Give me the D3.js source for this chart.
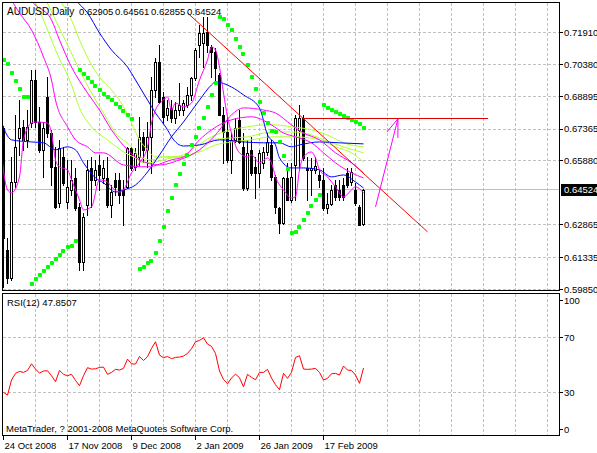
<!DOCTYPE html>
<html><head><meta charset="utf-8">
<script src="https://cdn.jsdelivr.net/npm/d3@7"></script>
<style>
body{margin:0;background:#fff}
svg{display:block}
text{font-family:"Liberation Sans",Arial,sans-serif;font-size:9.5px;fill:#000}
</style>
</head><body>
<svg id="c" width="597" height="453"></svg>
<script>
// ---------------- DATA ----------------
const symbolTitle = "AUDUSD,Daily";
const titleValues = ["0.62905", "0.64561", "0.62855", "0.64524"];
const dateLabels = ["24 Oct 2008", "17 Nov 2008", "9 Dec 2008", "2 Jan 2009", "26 Jan 2009", "17 Feb 2009"];
const dateBars = [0, 16, 32, 48, 64, 80];
const priceTicks = [0.71910, 0.70380, 0.68895, 0.67365, 0.65880, 0.62865, 0.61335, 0.59850];
const rsiTicks = [100, 70, 30, 0];
const rsiGrid = [70, 30];
const lastPrice = 0.64524;
const rsiLabel = "RSI(12) 47.8507";
const copyright = "MetaTrader, ? 2001-2008 MetaQuotes Software Corp.";

const open = [0.6742,0.6169,0.6038,0.6488,0.6695,0.6747,0.6686,0.6765,0.6967,0.6770,
0.6639,0.6888,0.6718,0.6559,0.6390,0.6606,0.6394,0.6451,0.6507,0.6371,
0.6113,0.6380,0.6554,0.6498,0.6568,0.6507,0.6507,0.6380,0.6498,0.6498,
0.6451,0.6465,0.6648,0.6559,0.6606,0.6700,0.6639,0.6700,0.6920,0.7052,
0.6888,0.6803,0.6836,0.6789,0.6826,0.6826,0.6850,0.6897,0.6977,0.7132,
0.7141,0.7193,0.7122,0.7099,0.6991,0.6803,0.6723,0.6592,0.6686,0.6780,
0.6653,0.6460,0.6639,0.6559,0.6531,0.6578,0.6629,0.6662,0.6512,0.6366,
0.6296,0.6507,0.6404,0.6568,0.6733,0.6789,0.6554,0.6545,0.6545,0.6521,
0.6498,0.6366,0.6385,0.6474,0.6451,0.6474,0.6531,0.6488,0.6451,0.6371,
0.62905];
const high = [0.6751,0.6225,0.6606,0.6803,0.6873,0.6780,0.6826,0.7014,0.7014,0.6841,
0.6770,0.6981,0.6733,0.6653,0.6686,0.6653,0.6592,0.6592,0.6554,0.6390,
0.6343,0.6592,0.6606,0.6592,0.6615,0.6592,0.6606,0.6474,0.6531,0.6531,
0.6498,0.6653,0.6653,0.6648,0.6794,0.6723,0.6770,0.6981,0.7071,0.7132,
0.6911,0.6873,0.6873,0.6864,0.6953,0.6873,0.6934,0.6981,0.7118,0.7226,
0.7263,0.7263,0.7132,0.7118,0.7000,0.6841,0.6794,0.6718,0.6789,0.6826,
0.6718,0.6686,0.6700,0.6606,0.6639,0.6653,0.6723,0.6686,0.6521,0.6371,
0.6512,0.6578,0.6578,0.6803,0.6850,0.6803,0.6606,0.6601,0.6606,0.6545,
0.6554,0.6437,0.6474,0.6498,0.6498,0.6507,0.6554,0.6554,0.6484,0.6380,
0.64561];
const low = [0.5995,0.6014,0.6028,0.6465,0.6615,0.6639,0.6653,0.6747,0.6747,0.6629,
0.6512,0.6700,0.6474,0.6366,0.6371,0.6474,0.6366,0.6427,0.6357,0.6075,
0.6075,0.6333,0.6371,0.6474,0.6451,0.6484,0.6371,0.6324,0.6427,0.6390,
0.6286,0.6460,0.6545,0.6545,0.6568,0.6582,0.6559,0.6531,0.6888,0.6859,
0.6765,0.6780,0.6770,0.6765,0.6803,0.6803,0.6841,0.6873,0.6967,0.7075,
0.7028,0.7099,0.6981,0.6953,0.6803,0.6578,0.6582,0.6531,0.6676,0.6672,
0.6451,0.6451,0.6521,0.6413,0.6465,0.6554,0.6615,0.6498,0.6343,0.6249,
0.6291,0.6404,0.6394,0.6404,0.6545,0.6592,0.6404,0.6427,0.6531,0.6465,
0.6357,0.6343,0.6380,0.6404,0.6404,0.6404,0.6465,0.6474,0.6380,0.6286,
0.62855];
const close = [0.6225,0.6038,0.6488,0.6653,0.6742,0.6686,0.6747,0.6967,0.6770,0.6639,
0.6742,0.6718,0.6559,0.6371,0.6648,0.6484,0.6465,0.6498,0.6366,0.6113,
0.6324,0.6545,0.6498,0.6545,0.6521,0.6554,0.6380,0.6441,0.6465,0.6427,
0.6427,0.6648,0.6554,0.6625,0.6700,0.6639,0.6700,0.6920,0.7052,0.6864,
0.6794,0.6836,0.6789,0.6826,0.6850,0.6859,0.6897,0.6977,0.7108,0.7188,
0.7188,0.7132,0.7099,0.7024,0.6803,0.6723,0.6592,0.6686,0.6742,0.6676,
0.6460,0.6625,0.6531,0.6531,0.6625,0.6629,0.6676,0.6512,0.6371,0.6296,
0.6507,0.6404,0.6512,0.6789,0.6789,0.6601,0.6545,0.6554,0.6563,0.6498,
0.6366,0.6385,0.6451,0.6418,0.6418,0.6418,0.6474,0.6535,0.6390,0.6286,
0.64524];

const sar = [0.7061,0.7042,0.7000,0.6963,0.6925,0.6888,0.6888,
0.6009,0.6033,0.6052,0.6070,0.6089,0.6108,0.6127,0.6146,0.6164,0.6183,0.6188,0.6211,
0.7014,0.6996,0.6977,0.6958,0.6939,0.6920,0.6902,0.6888,0.6873,0.6855,0.6841,0.6822,0.6803,0.6784,
null,0.6080,0.6089,0.6108,0.6117,0.6155,0.6211,0.6277,0.6352,0.6413,0.6474,0.6526,0.6573,0.6615,0.6662,0.6700,0.6742,0.6789,0.6841,0.6897,0.6953,
0.7263,0.7254,0.7226,0.7202,0.7160,0.7122,0.7089,0.7038,0.6981,0.6925,0.6864,0.6812,0.6765,0.6728,0.6722,0.6676,0.6610,0.6549,
0.6249,0.6254,0.6277,0.6310,0.6343,0.6376,0.6404,0.6427,
0.6850,0.6836,0.6826,0.6817,0.6808,0.6798,0.6789,0.6780,0.6770,0.6761,0.6742];

const rsi = [30.3,28.3,39.2,44.0,45.4,44.7,46.1,50.9,47.1,44.2,
45.7,45.9,42.3,38.0,46.1,43.3,42.3,43.3,38.9,35.1,
42.3,48.1,47.1,47.3,48.3,48.5,43.3,44.7,46.9,46.4,
47.6,54.3,50.9,50.7,56.2,53.3,56.0,62.0,66.8,57.2,
55.3,56.2,54.6,55.5,55.8,56.5,58.4,61.8,66.8,67.8,
69.7,65.1,63.5,58.4,45.7,39.6,36.5,40.6,43.5,40.8,
34.3,43.3,41.1,39.4,44.7,44.7,46.9,40.6,35.8,32.2,
44.0,40.4,44.7,55.5,56.7,47.1,46.9,47.1,47.6,44.7,
39.2,40.4,43.7,44.0,42.8,49.3,46.4,46.1,42.8,36.8,
47.85];

// moving-average lines: [bar index, price]
const maMagentaFast = [[-1,0.6709],[1,0.6451],[2,0.6437],[4,0.6512],[5,0.6686],[7,0.6765],[8,0.6770],[11,0.6765],[12,0.6718],[13,0.6592],[14,0.6559],[16,0.6545],[17,0.6498],[19,0.6404],[20,0.6357],[22,0.6371],[24,0.6498],[26,0.6488],[27,0.6465],[29,0.6441],[30,0.6451],[32,0.6531],[34,0.6578],[36,0.6653],[37,0.6765],[38,0.6826],[40,0.6873],[41,0.6888],[42,0.6826],[43,0.6859],[45,0.6841],[47,0.6859],[49,0.6967],[51,0.7061],[52,0.7122],[53,0.7108],[54,0.7028],[55,0.6906],[56,0.6794],[57,0.6718],[59,0.6625],[61,0.6606],[62,0.6615],[64,0.6578],[66,0.6601],[67,0.6578],[68,0.6512],[70,0.6451],[72,0.6413],[73,0.6418],[74,0.6545],[75,0.6606],[77,0.6629],[78,0.6601],[79,0.6545],[81,0.6512],[83,0.6465],[85,0.6418],[87,0.6451],[88,0.6465],[90,0.6437]];
const maMagentaMid = [[0,0.7420],[2,0.7343],[4,0.7282],[7,0.7202],[10,0.7075],[12,0.6967],[13,0.6873],[16,0.6747],[18,0.6686],[21,0.6653],[23,0.6625],[25,0.6625],[30,0.6568],[36,0.6559],[42,0.6592],[45,0.6606],[49,0.6686],[52,0.6733],[57,0.6780],[62,0.6794],[67,0.6756],[70,0.6718],[73,0.6700],[77,0.6672],[80,0.6625],[83,0.6578],[87,0.6531],[90,0.6507]];
const maMagentaSlow = [[5,0.7420],[7,0.7343],[12,0.7249],[14,0.7155],[17,0.7028],[21,0.6906],[24,0.6826],[27,0.6733],[31,0.6639],[34,0.6592],[39,0.6568],[44,0.6592],[49,0.6639],[53,0.6709],[57,0.6803],[60,0.6836],[65,0.6826],[68,0.6812],[72,0.6756],[75,0.6718],[79,0.6686],[83,0.6625],[87,0.6578],[90,0.6531]];
const maLime1 = [[13,0.7366],[17,0.7249],[19,0.7155],[22,0.7038],[24,0.6981],[27,0.6920],[30,0.6841],[32,0.6765],[34,0.6686],[36,0.6639],[38,0.6606],[42,0.6606],[45,0.6615],[48,0.6653],[52,0.6700],[57,0.6733],[61,0.6747],[65,0.6756],[68,0.6756],[72,0.6747],[77,0.6733],[82,0.6700],[85,0.6672],[90,0.6653]];
const maLime2 = [[10,0.7366],[13,0.7249],[16,0.7132],[19,0.7014],[22,0.6906],[25,0.6812],[28,0.6718],[32,0.6653],[34,0.6606],[37,0.6592],[40,0.6606],[44,0.6606],[49,0.6639],[52,0.6686],[57,0.6695],[61,0.6700],[65,0.6718],[68,0.6723],[72,0.6723],[77,0.6709],[80,0.6686],[85,0.6653],[90,0.6625]];
const maLime3 = [[7,0.7366],[10,0.7249],[13,0.7108],[17,0.6944],[19,0.6836],[22,0.6747],[26,0.6686],[30,0.6629],[33,0.6601],[35,0.6578],[38,0.6582],[42,0.6601],[45,0.6606],[49,0.6629],[53,0.6662],[57,0.6676],[62,0.6686],[67,0.6700],[73,0.6700],[79,0.6686],[83,0.6653],[87,0.6625],[90,0.6582]];
const maBlueSlow = [[15,0.7420],[18,0.7343],[21,0.7282],[24,0.7188],[27,0.7108],[31,0.7028],[33,0.6967],[36,0.6873],[38,0.6812],[41,0.6733],[42,0.6700],[45,0.6657],[49,0.6662],[54,0.6686],[60,0.6676],[65,0.6672],[69,0.6672],[72,0.6653],[74,0.6662],[79,0.6676],[84,0.6672],[90,0.6667]];
const maBlueFast = [[-1,0.6794],[2,0.6686],[7,0.6676],[10,0.6672],[13,0.6639],[16,0.6653],[18,0.6639],[20,0.6578],[23,0.6507],[25,0.6484],[28,0.6441],[30,0.6451],[33,0.6474],[36,0.6535],[39,0.6615],[42,0.6700],[45,0.6770],[49,0.6873],[52,0.6944],[53,0.6958],[57,0.6934],[60,0.6897],[64,0.6836],[66,0.6709],[68,0.6662],[69,0.6601],[72,0.6554],[75,0.6554],[79,0.6545],[82,0.6512],[85,0.6521],[88,0.6488],[90,0.6460]];

// drawn objects: [bar index, price]
const trendLine = [[46,0.7282],[106,0.6254]];
const levelLine = [[75,0.6784],[121,0.6784]];
const arrowLine = [[93,0.6371],[98.6,0.6784]];

// ---------------- DRAW ----------------
const svg = d3.select("#c");
const Lx = 2.5, Rx = 559.5, T1 = 2.5, B1 = 290.5, T2 = 293.5, B2 = 435.5;
const x = d3.scaleLinear().domain([0, 90]).range([3.5, 363.5]);
const y = d3.scaleLinear().domain([0.59850, 0.71910]).range([289.1, 32.3]);
const yr = d3.scaleLinear().domain([0, 100]).range([434.3, 295.8]);
const snap = v => Math.round(v - 0.5) + 0.5;
const grid = "#c0c0c0";

const defs = svg.append("defs");
defs.append("clipPath").attr("id","cm").append("rect").attr("x",Lx).attr("y",T1).attr("width",Rx-Lx).attr("height",B1-T1);
defs.append("clipPath").attr("id","cr").append("rect").attr("x",Lx).attr("y",T2).attr("width",Rx-Lx).attr("height",B2-T2);

const gMain = svg.append("g").attr("clip-path","url(#cm)");
const gRsi = svg.append("g").attr("clip-path","url(#cr)");

// vertical grid every 8 bars
const vBars = d3.range(8, 140, 8).filter(i => x(i) < Rx - 2);
[[gMain,T1,B1],[gRsi,T2,B2]].forEach(([g,t,b]) => {
  g.selectAll(null).data(vBars).join("line")
    .attr("x1", d => snap(x(d))).attr("x2", d => snap(x(d)))
    .attr("y1", t).attr("y2", b)
    .attr("stroke", grid).attr("stroke-dasharray","3,2").attr("shape-rendering","crispEdges");
});
// horizontal price grid
gMain.selectAll(null).data(priceTicks).join("line")
  .attr("x1",Lx).attr("x2",Rx).attr("y1",d=>snap(y(d))).attr("y2",d=>snap(y(d)))
  .attr("stroke",grid).attr("stroke-dasharray","3,2").attr("shape-rendering","crispEdges");
gRsi.selectAll(null).data(rsiGrid).join("line")
  .attr("x1",Lx).attr("x2",Rx).attr("y1",d=>snap(yr(d))).attr("y2",d=>snap(yr(d)))
  .attr("stroke",grid).attr("stroke-dasharray","3,2").attr("shape-rendering","crispEdges");
// last price line
gMain.append("line").attr("x1",Lx).attr("x2",Rx).attr("y1",snap(y(lastPrice))).attr("y2",snap(y(lastPrice)))
  .attr("stroke",grid).attr("shape-rendering","crispEdges");

// candles
const bars = d3.range(open.length).map(i => ({i, o:open[i], h:high[i], l:low[i], c:close[i]}));
const cg = gMain.append("g").attr("shape-rendering","crispEdges");
cg.selectAll("line.w").data(bars).join("line")
  .attr("x1",d=>x(d.i)).attr("x2",d=>x(d.i))
  .attr("y1",d=>Math.round(y(d.h))).attr("y2",d=>Math.round(y(d.l))+1)
  .attr("stroke","#000");
cg.selectAll("rect.b").data(bars).join("rect")
  .each(function(d){
    const top = Math.round(y(Math.max(d.o,d.c))), bot = Math.round(y(Math.min(d.o,d.c)));
    const s = d3.select(this);
    if (d.c > d.o) {
      s.attr("x", x(d.i)-1).attr("y", top+0.5).attr("width",2).attr("height",Math.max(1,bot-top))
       .attr("fill","#fff").attr("stroke","#000");
    } else {
      s.attr("x", x(d.i)-1.5).attr("y", top).attr("width",3).attr("height",Math.max(1,bot-top+1))
       .attr("fill","#000");
    }
  });

// MA lines
const line = d3.line().x(d=>x(d[0])).y(d=>y(d[1])).curve(d3.curveMonotoneX);
[[maLime3,"#adff2f"],[maLime2,"#adff2f"],[maLime1,"#adff2f"],
 [maBlueSlow,"#0000ff"],[maBlueFast,"#0000ff"],
 [maMagentaSlow,"#ff00ff"],[maMagentaMid,"#ff00ff"],[maMagentaFast,"#ff00ff"]]
 .forEach(([data,col]) => {
   gMain.append("path").attr("d",line(data)).attr("fill","none").attr("stroke",col).attr("stroke-width",1);
 });

// Parabolic SAR
gMain.selectAll("rect.sar").data(sar.map((v,i)=>({i,v})).filter(d=>d.v!==null)).join("rect")
  .attr("x",d=>Math.round(x(d.i))-2).attr("y",d=>Math.round(y(d.v))-2)
  .attr("width",4).attr("height",4).attr("rx",0.8).attr("fill","#00ff00");

// drawn objects
const straight = d3.line().x(d=>x(d[0])).y(d=>y(d[1]));
gMain.append("path").attr("d",straight(trendLine)).attr("stroke","#ff0000").attr("fill","none");
const ly = snap(y(levelLine[0][1]));
gMain.append("line").attr("x1",x(levelLine[0][0])).attr("x2",x(levelLine[1][0]))
  .attr("y1",ly).attr("y2",ly).attr("stroke","#e00000").attr("stroke-width",1).attr("shape-rendering","crispEdges");
gMain.append("path").attr("d",straight(arrowLine)).attr("stroke","#ff00ff").attr("fill","none");
const tip = [x(arrowLine[1][0]), y(arrowLine[1][1])];
gMain.append("path").attr("d",`M${tip[0]-11},${tip[1]+13}L${tip[0]},${tip[1]}L${tip[0]},${tip[1]+19}`)
  .attr("stroke","#ff00ff").attr("fill","none");

// RSI line
gRsi.append("path").attr("d", d3.line().x((d,i)=>x(i)).y(d=>yr(d))(rsi))
  .attr("fill","none").attr("stroke","#ff0000").attr("stroke-width",1);

// frames
svg.append("rect").attr("x",Lx).attr("y",T1).attr("width",Rx-Lx).attr("height",B1-T1).attr("fill","none").attr("stroke","#000").attr("shape-rendering","crispEdges");
svg.append("rect").attr("x",Lx).attr("y",T2).attr("width",Rx-Lx).attr("height",B2-T2).attr("fill","none").attr("stroke","#000").attr("shape-rendering","crispEdges");

// price axis labels
const ax = svg.append("g");
ax.selectAll("line").data(priceTicks).join("line")
  .attr("x1",Rx).attr("x2",Rx+3).attr("y1",d=>snap(y(d))).attr("y2",d=>snap(y(d))).attr("stroke","#000").attr("shape-rendering","crispEdges");
ax.selectAll("text").data(priceTicks).join("text")
  .attr("x",564).attr("y",d=>y(d)+3.4).text(d=>d.toFixed(5));
// last price tag
svg.append("rect").attr("x",561).attr("y",Math.round(y(lastPrice))-6).attr("width",36).attr("height",12).attr("fill","#000");
svg.append("text").attr("x",564).attr("y",y(lastPrice)+3.4).style("fill","#fff").text(lastPrice.toFixed(5));

// RSI axis labels
const rx = svg.append("g");
rx.selectAll("line").data(rsiTicks).join("line")
  .attr("x1",Rx).attr("x2",Rx+3).attr("y1",d=>snap(Math.min(Math.max(yr(d),300.5),429.5))).attr("y2",d=>snap(Math.min(Math.max(yr(d),300.5),429.5)))
  .attr("stroke","#000").attr("shape-rendering","crispEdges");
rx.selectAll("text").data(rsiTicks).join("text")
  .attr("x",564).attr("y",d=>Math.min(Math.max(yr(d),300.7),429.5)+3.4).text(d=>d);

// time axis
const tx = svg.append("g");
tx.selectAll("line").data(dateBars).join("line")
  .attr("x1",d=>snap(x(d))).attr("x2",d=>snap(x(d))).attr("y1",B2).attr("y2",B2+4)
  .attr("stroke","#000").attr("shape-rendering","crispEdges");
tx.selectAll("text").data(dateLabels).join("text")
  .attr("x",(d,i)=>x(dateBars[i])+1).attr("y",448.5).text(d=>d);

// titles
svg.append("text").attr("x",7).attr("y",15).style("font-size","10px").text(symbolTitle);
const titleX = [79, 115, 151, 187];
titleValues.forEach((v,i)=> svg.append("text").attr("x",titleX[i]).attr("y",15).text(v));
svg.append("text").attr("x",7).attr("y",305.5).text(rsiLabel);
svg.append("text").attr("x",6).attr("y",431.5).text(copyright);
</script>
</body></html>
